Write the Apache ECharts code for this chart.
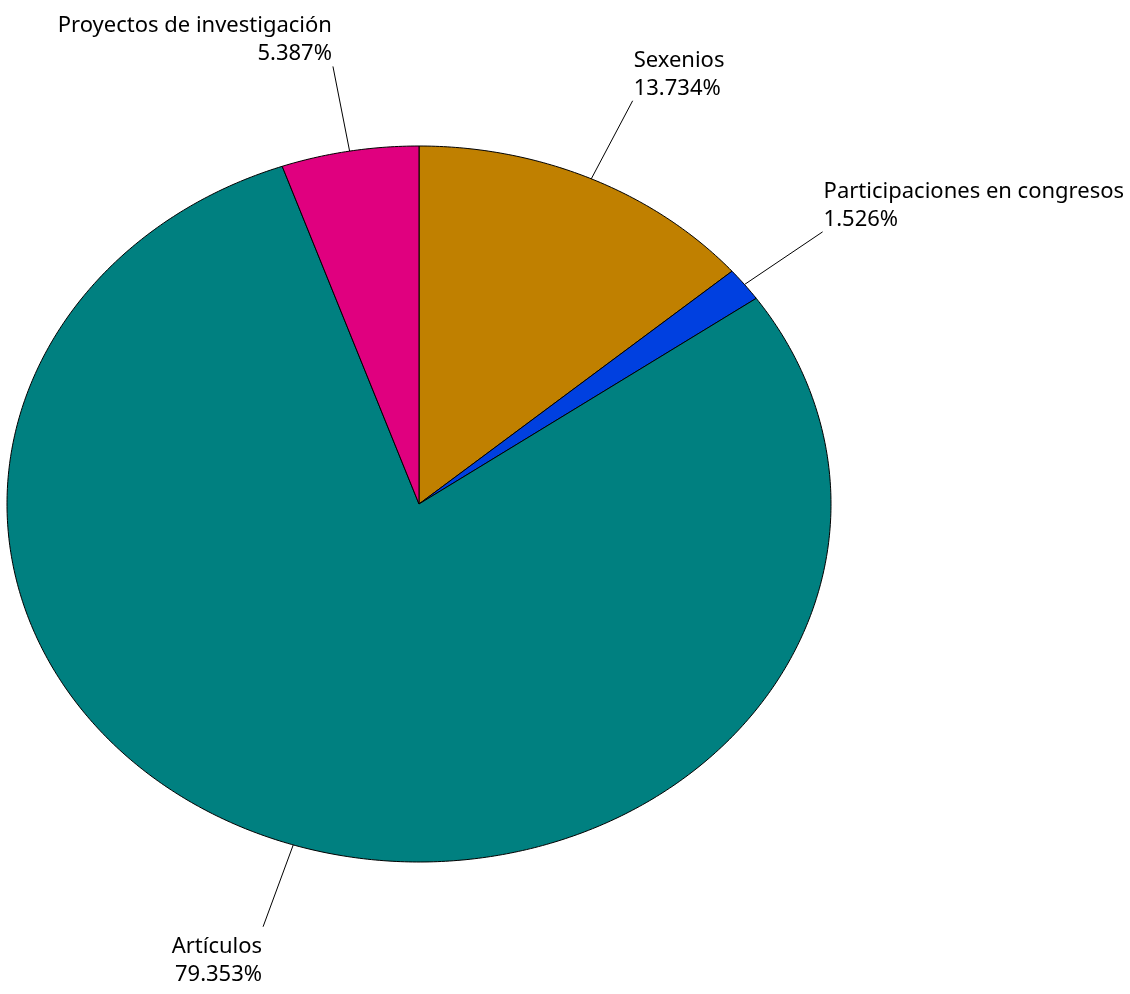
<!DOCTYPE html>
<html><head><meta charset="utf-8">
<script src="https://cdn.jsdelivr.net/npm/echarts@6/dist/echarts.min.js"></script>
<style>html,body{margin:0;padding:0;background:#fff}#c{width:1130px;height:994px}</style>
</head><body><div id="c"></div>
<script>
var categories = ['Sexenios', 'Participaciones en congresos', 'Artículos', 'Proyectos de investigación'];
var values = [13.734, 1.526, 79.353, 5.387];
var colors = ['#C08000', '#0040E0', '#008080', '#E0007F'];

var CX = 419, CY = 504, RX = 412, RY = 358, LK = 1.24;
var total = values.reduce(function(a,b){return a+b;},0);
var starts = [], acc = 0;
values.forEach(function(v){ starts.push(acc); acc += v; });
function pt(t, k){ return [CX + RX*k*Math.sin(t), CY - RY*k*Math.cos(t)]; }

var chart = echarts.init(document.getElementById('c'), null, {renderer:'canvas'});
chart.setOption({
  animation: false,
  series: [{
    type: 'custom',
    coordinateSystem: 'none',
    data: values.map(function(v,i){ return {name: categories[i], value: v}; }),
    renderItem: function(params, api){
      var i = params.dataIndex;
      var a0 = starts[i]/total*2*Math.PI, a1 = (starts[i]+values[i])/total*2*Math.PI;
      var n = Math.max(4, Math.ceil((a1-a0)/0.01));
      var pts = [[CX, CY]];
      for (var j=0;j<=n;j++){ pts.push(pt(a0 + (a1-a0)*j/n, 1)); }
      var m = (a0+a1)/2;
      var p1 = pt(m, 1), p2 = pt(m, LK);
      var right = Math.sin(m) > 0, top = Math.cos(m) > 0;
      return {
        type: 'group',
        children: [
          {type:'polygon', shape:{points:pts}, style:{fill:colors[i], stroke:'#000', lineWidth:1}},
          {type:'line', shape:{x1:p1[0], y1:p1[1], x2:p2[0], y2:p2[1]}, style:{stroke:'#000', lineWidth:1}},
          {type:'text', x: p2[0] + (right?1:-1), y: p2[1] + (top?1.5:6),
            style:{text: categories[i] + '\n' + values[i].toFixed(3) + '%',
              fill:'#000', font:'22px "Noto Sans"', lineHeight:28,
              align: right?'left':'right', verticalAlign: top?'bottom':'top'}}
        ]
      };
    }
  }]
});
</script></body></html>
